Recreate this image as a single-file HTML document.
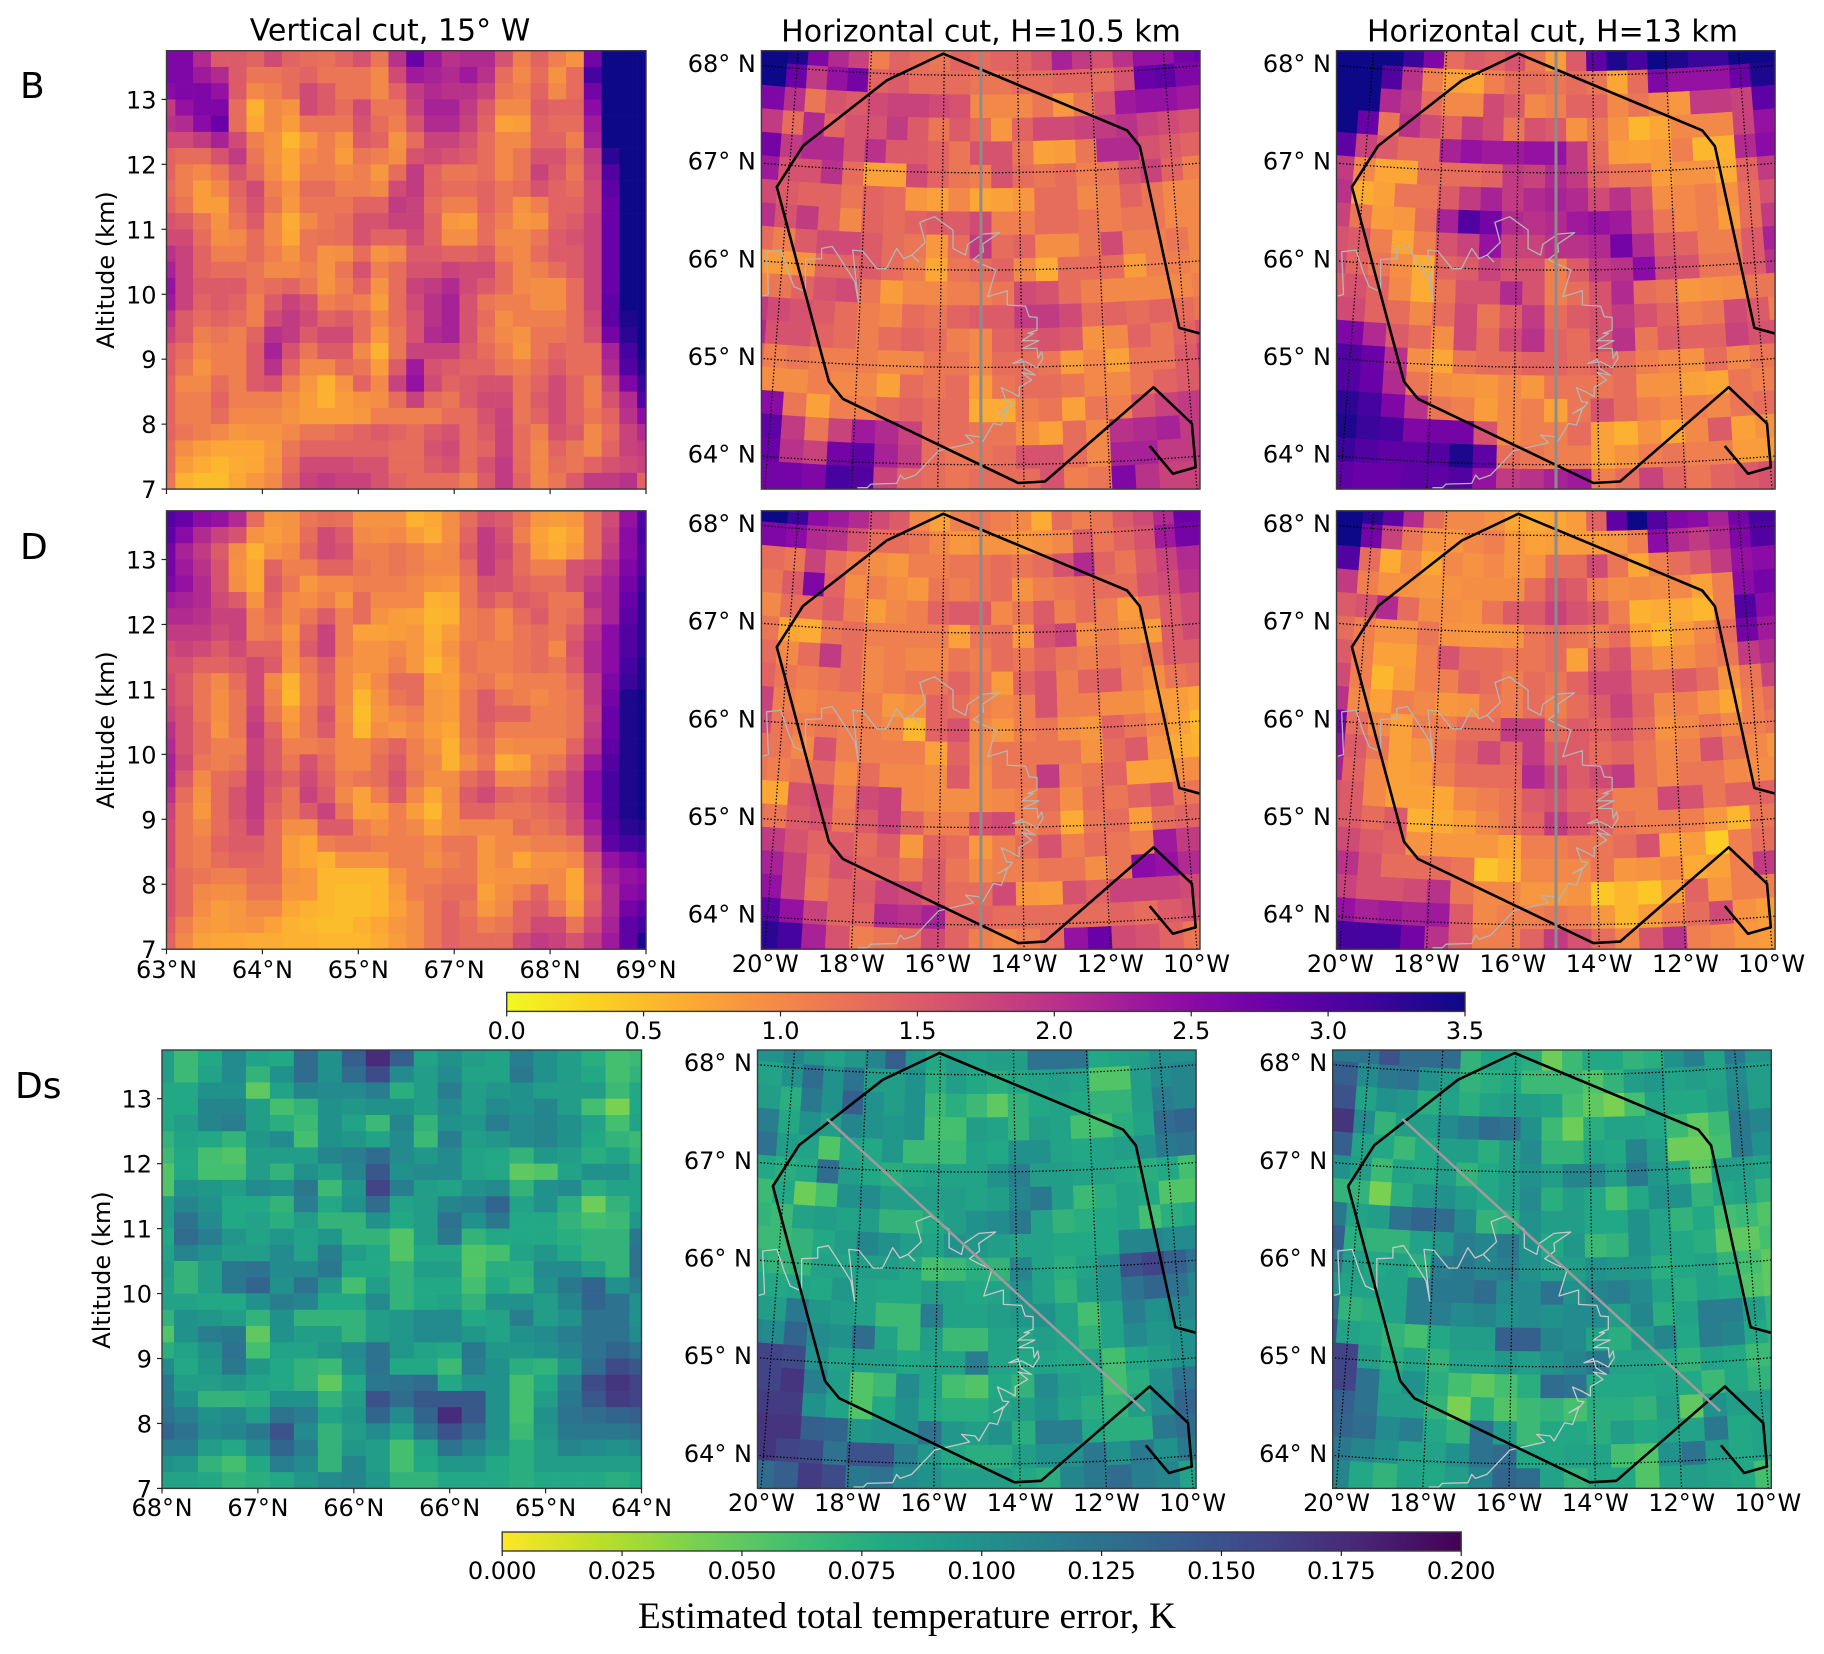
<!DOCTYPE html>
<html lang="en">
<head>
<meta charset="utf-8">
<title>Estimated total temperature error</title>
<style>
html,body{margin:0;padding:0;background:#fff}
svg{display:block}
text{font-family:"DejaVu Sans",sans-serif;fill:#000}
</style>
</head>
<body>
<svg id="chart" xmlns="http://www.w3.org/2000/svg" width="1824" height="1654" viewBox="0 0 1824 1654">
<rect x="0" y="0" width="1824" height="1654" fill="#fff"/>
<text x="390" y="31" font-size="30" text-anchor="middle" dominant-baseline="central">Vertical cut, 15° W</text>
<text x="981" y="32" font-size="30" text-anchor="middle" dominant-baseline="central">Horizontal cut, H=10.5 km</text>
<text x="1552.5" y="32" font-size="30" text-anchor="middle" dominant-baseline="central">Horizontal cut, H=13 km</text>
<text x="20" y="98" font-size="36">B</text>
<text x="20" y="559" font-size="36">D</text>
<text x="15" y="1098" font-size="36">Ds</text>
<text transform="translate(106,270) rotate(-90)" font-size="24" text-anchor="middle" dominant-baseline="central">Altitude (km)</text>
<text transform="translate(106,730) rotate(-90)" font-size="24" text-anchor="middle" dominant-baseline="central">Altitude (km)</text>
<text transform="translate(102,1270) rotate(-90)" font-size="24" text-anchor="middle" dominant-baseline="central">Altitude (km)</text>
<text x="638" y="1628" font-size="37.5" textLength="538" lengthAdjust="spacingAndGlyphs" style="font-family:'Liberation Serif',serif">Estimated total temperature error, K</text>
</svg>
<script>
const altitudeTicks = [7,8,9,10,11,12,13];
const vertTickLabelsD = [63,64,65,67,68,69];
const vertTickLabelsDs = [68,67,66,66,65,64];
const latTicks = [64,65,66,67,68];
const lonTicks = [-20,-18,-16,-14,-12,-10];
const plasmaTicks = [0,0.5,1,1.5,2,2.5,3,3.5];
const viridisTicks = [0,0.025,0.05,0.075,0.1,0.125,0.15,0.175,0.2];

const regionLons = [-11.03,-10.53,-9.99,-10.0,-10.85,-13.51,-14.13,-18.30,-18.66,-20.29,-19.69,-17.55,-16.03,-11.12,-10.81,-10.13,-9.6];
const regionLats = [64.14,63.84,63.89,64.34,64.74,63.82,63.81,64.64,64.81,66.77,67.21,67.93,68.22,67.39,67.22,65.33,65.25];
const sectionMeridianLon = -15;
const sectionObliqueLons = [-19.0,-11.0];
const sectionObliqueLats = [67.5,64.49];

const coastEast = [232,248,243,283,303,320,345,352,352,397,397,427,470,490,500,484,512,552,578,607,627,650,668,650,687,672,713,765,765,800,806,848,895,848,850,822,848,885,862,917,917,968,978,1000,1000,975,990,958,1005,960,1000,1003,1013,1017,1000,968,932,958,965,995,958,985,950,950,925,900,915,932,918,890,918,900,878,848,838,800,822,725,660,628,618,607,535,525,497];
const coastSouth = [888,883,755,750,815,860,872,870,778,776,745,739,810,845,905,750,753,806,806,745,776,765,785,765,727,667,650,690,745,765,733,702,698,732,755,778,793,810,890,872,915,918,950,952,990,1000,1000,1022,1022,1045,1045,1075,1055,1075,1103,1085,1090,1078,1105,1125,1118,1140,1162,1190,1175,1163,1205,1207,1225,1240,1222,1275,1270,1325,1310,1305,1328,1352,1425,1437,1425,1450,1452,1463,1463];

const verticalB = [
[2.6,2.6,2.1,1.5,1.5,1.4,1.7,1.4,1.3,1.25,1.4,1.6,1.2,2.0,2.8,2.3,2.0,2.1,2.1,1.6,1.1,1.4,1.1,.9,2.7,3.5,3.5,3.5],
[2.6,2.6,2.3,2.1,1.5,1.2,1.2,1.3,1.4,1.2,1.2,1.2,1.0,1.7,2.3,2.2,2.1,2.3,2.0,1.3,1.0,1.3,.9,1.3,3.1,3.5,3.5,3.5],
[2.5,2.6,2.6,2.4,1.5,1.0,1.1,1.3,1.7,1.5,1.2,1.2,1.0,1.4,1.9,2.1,2.0,2.0,1.8,1.2,1.1,1.4,1.0,1.3,2.7,3.5,3.5,3.5],
[1.9,2.4,2.6,2.6,1.3,.6,1.0,.9,1.7,1.5,1.3,1.7,1.2,1.2,1.8,2.2,2.2,1.9,1.5,1.0,1.0,1.5,1.4,1.4,2.5,3.5,3.5,3.5],
[2.0,2.1,2.5,2.8,1.3,.7,1.0,.8,1.2,1.2,1.2,1.6,1.3,1.1,1.6,2.1,2.1,1.8,1.4,.75,.8,1.4,1.3,1.3,2.3,3.5,3.5,3.5],
[1.7,1.7,1.9,2.2,1.7,1.1,.9,.55,.85,1.1,.9,1.5,1.4,.9,1.3,1.8,1.8,1.6,1.3,1.0,1.0,1.4,1.4,1.1,2.2,3.5,3.5,3.5],
[1.4,1.3,1.3,1.6,1.9,1.2,.9,.7,1.0,1.1,.8,1.2,1.1,.95,1.6,1.7,1.6,1.5,1.3,1.0,1.2,1.6,1.6,1.3,1.9,3.3,3.5,3.5],
[1.4,1.1,1.0,1.2,1.6,1.3,.95,.7,1.1,1.1,1.0,1.1,.85,1.3,1.9,1.4,1.2,1.2,1.3,1.0,1.2,1.8,1.5,1.2,1.8,3.0,3.5,3.5],
[1.3,1.1,.8,1.0,1.4,1.7,1.1,.9,1.3,1.3,1.1,1.1,1.0,1.7,1.9,1.4,1.3,1.3,1.4,1.2,1.3,1.6,1.4,1.3,1.7,2.9,3.5,3.5],
[1.4,1.2,.8,.8,1.3,1.6,1.2,.85,1.2,1.2,1.2,1.4,1.4,1.9,1.8,1.3,1.1,1.1,1.4,1.2,.9,1.1,1.4,1.4,1.7,2.8,3.5,3.5],
[1.6,1.5,1.2,.9,1.2,1.5,1.0,.65,1.0,1.2,1.3,1.6,1.6,1.8,1.8,1.4,.85,.8,1.3,1.1,.85,.9,1.4,1.5,1.8,2.8,3.5,3.5],
[1.7,1.7,1.3,.95,1.0,1.3,1.0,.7,1.2,1.25,1.3,1.6,1.4,1.4,1.7,1.4,.95,.95,1.3,1.0,1.0,1.2,1.5,1.6,1.8,2.8,3.5,3.5],
[2.0,1.8,1.4,1.1,1.1,1.3,1.1,.9,1.2,.9,.95,1.3,.9,1.0,1.5,1.5,1.4,1.4,1.5,1.1,1.0,1.3,1.5,1.5,1.8,2.8,3.5,3.5],
[2.2,1.8,1.4,1.3,1.3,1.2,1.0,1.0,1.1,.9,1.2,1.6,1.1,1.3,1.6,1.6,1.8,1.7,1.7,1.3,1.0,1.1,1.3,1.5,1.8,2.8,3.5,3.5],
[2.4,1.8,1.5,1.5,1.5,1.2,1.3,1.4,1.2,.9,1.1,1.4,.9,1.3,1.8,1.9,2.1,1.7,1.5,1.3,1.0,.95,.95,1.3,1.8,2.8,3.5,3.5],
[2.3,1.8,1.4,1.5,1.4,1.1,1.5,1.8,1.6,1.1,1.2,1.1,.8,1.3,1.7,2.0,2.2,1.6,1.2,1.1,1.1,.95,.95,1.3,1.8,2.9,3.5,3.5],
[2.0,1.5,1.3,1.4,1.3,1.1,1.7,1.9,1.7,1.4,1.5,1.3,1.0,1.3,1.6,2.0,2.2,1.6,1.3,.95,1.1,1.1,1.1,1.3,1.7,2.9,3.4,3.5],
[1.8,1.5,1.1,1.2,1.1,1.4,2.0,1.9,1.5,1.7,1.7,1.3,.85,1.2,1.6,2.1,2.2,1.6,1.2,1.0,.9,1.2,1.2,1.3,1.6,2.7,3.3,3.5],
[1.5,1.3,1.0,1.1,1.1,1.5,2.2,1.6,1.2,1.5,1.5,1.0,.6,1.2,1.8,1.8,1.8,1.5,1.3,1.1,.85,1.2,1.4,1.3,1.3,2.2,3.1,3.5],
[1.5,1.2,.9,1.1,1.1,1.5,2.0,1.4,1.0,1.0,1.3,1.2,.8,1.5,2.3,1.6,1.5,1.4,1.4,1.2,1.1,1.3,1.5,1.3,1.3,2.1,3.0,3.4],
[1.4,1.0,1.0,1.3,1.1,1.5,1.6,1.1,.85,.6,.9,1.4,1.0,1.8,2.4,1.7,1.4,1.5,1.6,1.6,1.2,1.4,1.7,1.4,1.1,1.8,2.6,3.2],
[1.4,1.1,1.1,1.4,1.1,1.1,1.1,.95,.8,.6,.8,.9,.95,1.3,1.8,1.3,1.2,1.5,1.7,1.7,1.2,1.5,1.7,1.4,1.1,1.6,2.1,3.0],
[1.4,1.1,1.1,1.3,1.0,1.0,1.0,.9,.8,.8,.8,.85,1.1,1.1,1.1,1.1,1.3,1.3,1.6,1.8,1.2,1.4,1.7,1.4,1.2,1.4,2.0,2.5],
[1.4,1.2,1.1,1.0,.85,.9,.9,1.0,1.2,1.2,1.3,1.4,1.5,1.4,1.3,1.5,1.6,1.3,1.5,1.8,1.3,1.1,1.6,1.5,1.0,1.3,1.8,2.1],
[1.3,.95,.8,.7,.7,.7,.85,1.2,1.4,1.4,1.4,1.4,1.4,1.3,1.3,1.6,1.7,1.3,1.4,1.8,1.3,1.0,1.4,1.2,1.0,1.4,1.8,1.9],
[1.3,.8,.65,.55,.65,.7,.9,1.3,1.7,1.7,1.7,1.6,1.6,1.3,1.3,1.5,1.6,1.3,1.6,1.9,1.3,1.0,1.3,1.2,1.4,1.6,1.7,1.8],
[1.2,.6,.5,.5,.7,.85,1.0,1.4,1.8,1.9,1.8,1.8,1.6,1.4,1.3,1.3,1.3,1.1,1.5,1.9,1.4,1.0,1.2,1.5,1.9,1.9,2.0,1.4]
];
const verticalD = [
[3.0,2.8,2.5,2.4,2.1,1.3,.85,.9,1.2,1.3,1.25,.9,.9,.9,.6,.7,.95,1.3,1.6,1.5,1.2,.85,.8,.85,1.3,1.7,2.4,3.0],
[2.9,2.5,2.1,1.8,1.6,.9,.8,.9,1.3,1.7,1.5,1.0,.95,1.0,.8,.65,.95,1.4,1.9,1.6,1.1,.75,.6,.75,1.3,1.8,2.5,3.1],
[2.7,2.2,1.9,1.5,.95,.6,.9,1.0,1.4,1.7,1.6,1.1,1.1,1.2,1.1,.95,1.0,1.5,1.9,1.7,1.3,.8,.65,.85,1.3,1.9,2.5,3.0],
[2.7,2.3,2.0,1.6,.9,.7,1.4,1.1,1.1,1.4,1.4,1.2,1.1,1.2,1.1,1.0,1.0,1.3,1.9,1.6,1.3,1.1,1.1,1.6,1.7,2.1,2.6,3.0],
[2.6,2.4,2.1,1.6,.95,.7,1.5,1.2,.85,1.0,1.0,1.1,1.1,1.1,1.0,.9,.85,1.2,1.6,1.6,1.4,1.3,1.3,1.6,1.9,2.2,2.7,3.2],
[2.3,2.2,2.1,1.7,1.5,.9,1.4,1.0,.95,1.1,.85,1.3,1.0,1.0,1.0,.6,.65,1.2,1.5,1.3,1.5,1.4,1.2,1.2,2.0,2.2,2.8,3.3],
[2.1,2.1,2.0,1.8,1.8,1.1,1.3,1.0,1.2,1.5,1.1,1.3,.9,.8,.75,.55,.6,1.1,1.2,1.0,1.3,1.5,1.2,1.3,1.8,2.2,2.9,3.3],
[1.9,1.9,1.9,1.7,1.8,1.1,1.2,.85,1.4,1.8,1.1,.75,.75,.8,.85,.6,.8,1.1,1.2,1.0,1.2,1.3,1.2,1.5,2.0,2.5,3.0,3.3],
[1.7,1.8,1.7,1.5,1.7,1.4,1.4,.95,1.5,1.8,1.1,.9,.9,1.0,.85,.65,.9,1.2,1.1,1.1,1.2,1.3,1.0,1.6,2.1,2.5,3.0,3.3],
[1.6,1.6,1.4,1.4,1.5,1.7,1.5,.9,1.2,1.5,1.0,.9,.9,1.1,.85,.55,.8,1.2,1.1,1.1,1.2,1.3,1.2,1.5,2.1,2.5,3.1,3.4],
[1.7,1.5,1.2,1.0,1.3,1.7,1.0,.6,1.1,1.4,1.0,.75,1.0,1.3,1.3,.8,.75,1.1,1.2,1.0,1.1,1.1,1.1,1.3,1.9,2.6,3.2,3.4],
[1.7,1.5,1.2,.95,1.2,1.7,1.1,.55,1.1,1.4,1.0,.55,.9,1.2,1.3,.85,.8,1.2,1.5,1.2,1.1,1.0,1.1,1.2,1.9,2.7,3.4,3.5],
[1.8,1.6,1.2,.95,1.2,1.8,1.2,.8,1.2,1.6,.95,.5,.85,1.0,1.1,.85,.8,1.2,1.5,1.4,1.4,1.1,1.1,1.2,1.8,2.8,3.4,3.5],
[2.0,1.6,1.3,.9,1.2,1.9,1.4,.9,1.2,1.5,1.0,.55,.95,.85,1.0,.8,.7,1.2,1.4,1.1,1.1,1.1,1.1,1.2,1.9,2.8,3.4,3.5],
[2.1,1.6,1.3,1.1,1.1,1.8,1.5,1.1,1.1,1.2,1.0,1.0,1.2,1.4,1.1,.9,.6,1.1,1.3,.95,1.0,1.0,1.0,1.4,2.0,2.9,3.4,3.5],
[2.2,1.7,1.2,1.1,1.2,1.8,1.5,1.2,1.6,1.3,1.0,1.0,1.3,1.5,1.1,1.0,.6,.95,1.2,.65,.75,1.1,1.2,1.6,2.3,3.0,3.4,3.5],
[2.2,1.5,1.0,1.3,1.4,1.9,1.6,1.4,1.7,1.4,1.1,1.2,1.3,1.6,1.2,.95,.95,1.3,1.5,1.0,1.0,1.2,1.5,1.8,2.5,3.1,3.4,3.5],
[2.0,1.3,.9,1.3,1.6,1.9,1.5,1.2,1.8,1.5,1.0,.75,1.1,1.5,1.0,.7,1.0,1.5,1.7,1.4,1.3,1.4,1.6,1.8,2.5,3.1,3.4,3.5],
[1.8,1.2,.85,1.3,1.6,1.9,1.4,1.2,1.5,1.8,1.2,.75,.8,1.1,.8,.55,.95,1.4,1.4,1.2,1.2,1.3,1.4,1.7,2.4,3.1,3.4,3.5],
[1.7,1.2,1.0,1.3,1.5,1.8,1.3,.95,.95,1.5,1.5,1.1,.95,1.1,1.0,.75,.95,1.0,1.0,1.0,1.3,1.2,1.3,1.6,2.2,3.0,3.3,3.4],
[1.7,1.2,1.1,1.4,1.5,1.5,1.3,.8,.7,1.1,1.2,1.2,1.1,1.1,1.1,1.0,1.2,1.2,.85,1.0,1.0,1.1,1.1,1.2,2.0,2.9,3.1,3.2],
[1.7,1.2,1.1,1.3,1.4,1.4,1.3,.8,.7,.6,.9,.9,.9,1.1,1.1,.95,1.1,1.2,.85,1.0,.7,.9,.9,1.0,1.6,2.4,2.6,2.8],
[1.6,1.3,1.2,1.1,1.1,1.3,1.3,.9,.85,.55,.55,.55,.55,.9,1.1,1.1,1.2,1.2,.85,.9,.9,.95,1.0,.7,1.5,2.2,2.4,2.5],
[1.6,1.3,1.0,.95,.95,1.2,1.2,.85,.85,.55,.5,.5,.55,.8,1.1,1.2,1.3,1.3,.75,.95,1.1,1.4,1.0,.7,1.4,2.1,2.5,2.6],
[1.6,1.3,.95,.8,.85,1.0,1.0,.7,.6,.55,.5,.5,.55,.75,.95,1.2,1.4,1.2,.85,1.0,1.4,1.5,1.2,.8,1.5,2.1,2.7,2.9],
[1.5,1.1,.85,.8,.85,.9,.75,.6,.55,.5,.5,.6,.7,.85,.95,1.2,1.4,1.3,1.1,1.2,1.4,1.7,1.7,1.2,1.7,2.2,2.9,3.1],
[1.4,1.0,.75,.7,.7,.65,.65,.6,.6,.55,.55,.55,.65,.8,.95,1.2,1.4,1.3,1.3,1.3,1.7,1.9,1.8,1.6,1.9,2.3,2.9,3.4]
];
const verticalDs = [
[.09,.065,.08,.105,.085,.08,.13,.1,.14,.175,.14,.085,.1,.09,.085,.115,.1,.09,.075,.06,.065],
[.09,.065,.085,.105,.07,.1,.13,.1,.13,.155,.105,.09,.105,.085,.085,.12,.1,.09,.08,.06,.07],
[.08,.08,.1,.1,.05,.085,.11,.105,.105,.115,.075,.09,.115,.09,.095,.1,.09,.09,.09,.065,.08],
[.08,.08,.11,.11,.09,.06,.07,.1,.095,.1,.1,.09,.105,.09,.105,.1,.11,.09,.06,.04,.08],
[.08,.09,.11,.115,.09,.075,.065,.1,.085,.065,.11,.07,.1,.095,.115,.105,.11,.1,.085,.06,.085],
[.07,.085,.08,.07,.095,.105,.06,.1,.095,.085,.105,.065,.115,.09,.095,.105,.11,.1,.08,.07,.065],
[.065,.08,.06,.055,.09,.09,.09,.11,.115,.13,.105,.095,.105,.085,.08,.07,.095,.09,.075,.085,.07],
[.055,.08,.06,.06,.09,.07,.1,.09,.11,.145,.1,.105,.105,.085,.08,.05,.055,.085,.1,.1,.085],
[.055,.1,.095,.09,.105,.1,.12,.065,.095,.16,.115,.09,.085,.1,.105,.07,.1,.105,.075,.085,.085],
[.09,.11,.1,.08,.08,.07,.115,.08,.1,.13,.085,.09,.11,.115,.135,.085,.1,.075,.045,.07,.085],
[.09,.125,.105,.08,.085,.075,.09,.07,.07,.1,.08,.09,.125,.1,.12,.08,.08,.07,.06,.065,.095],
[.08,.13,.115,.095,.085,.095,.085,.095,.07,.07,.055,.09,.12,.07,.08,.08,.08,.075,.07,.07,.12],
[.085,.11,.1,.09,.09,.105,.085,.115,.09,.08,.055,.08,.08,.055,.06,.085,.095,.08,.07,.07,.125],
[.09,.07,.09,.12,.125,.105,.105,.12,.08,.08,.07,.09,.09,.055,.075,.075,.105,.105,.09,.07,.125],
[.085,.07,.09,.12,.135,.1,.125,.095,.06,.09,.07,.08,.08,.06,.08,.07,.1,.12,.135,.1,.115],
[.085,.085,.08,.08,.1,.115,.11,.08,.08,.105,.07,.08,.085,.07,.1,.1,.09,.11,.135,.125,.1],
[.07,.1,.095,.09,.07,.1,.07,.07,.07,.09,.095,.105,.105,.08,.085,.115,.09,.1,.125,.125,.1],
[.055,.1,.115,.12,.05,.1,.09,.09,.07,.09,.095,.105,.105,.095,.085,.1,.105,.115,.125,.125,.105],
[.075,.085,.1,.125,.06,.085,.085,.095,.105,.125,.095,.085,.08,.12,.095,.095,.1,.11,.125,.135,.125],
[.105,.08,.095,.12,.095,.08,.07,.065,.1,.125,.08,.08,.065,.115,.1,.075,.07,.095,.13,.155,.145],
[.12,.09,.09,.095,.085,.08,.07,.05,.08,.12,.125,.13,.08,.1,.1,.06,.08,.115,.155,.17,.16],
[.12,.1,.07,.07,.075,.1,.1,.07,.09,.15,.13,.145,.145,.145,.1,.06,.09,.12,.145,.165,.16],
[.125,.115,.1,.105,.09,.125,.115,.085,.095,.135,.105,.135,.175,.145,.1,.06,.1,.125,.13,.135,.14],
[.135,.125,.105,.11,.12,.15,.105,.07,.09,.105,.085,.12,.15,.13,.1,.065,.095,.12,.12,.12,.125],
[.115,.115,.09,.08,.105,.135,.115,.07,.095,.09,.06,.085,.125,.11,.095,.075,.09,.11,.105,.1,.105],
[.1,.095,.07,.06,.08,.115,.105,.07,.11,.09,.06,.08,.095,.095,.08,.075,.09,.09,.09,.09,.09],
[.085,.085,.08,.07,.075,.08,.095,.105,.11,.095,.07,.07,.08,.08,.08,.075,.08,.08,.08,.075,.08]
];
const mapB105 = [
[3.5,3.5,3.4,2.6,2.1,1.8,1.1,1.4,1.3,1.2,1.4,1.3,1.4,1.4,1.6,2.2,1.9,1.6,2.0,2.4,2.4,2.7,2.8],
[3.5,3.5,2.8,1.9,2.4,2.7,1.4,1.5,1.3,1.3,1.3,1.2,1.2,1.3,1.3,1.4,1.4,1.3,1.6,2.8,2.9,2.6,2.6],
[2.6,2.6,2.0,1.2,1.6,1.5,1.7,1.8,1.8,1.7,1.6,1.0,1.0,1.0,1.2,.85,1.2,1.6,2.3,2.4,2.4,2.3,2.3],
[2.0,1.9,1.3,2.1,1.4,1.6,1.6,1.9,1.5,1.2,1.5,1.3,.85,1.4,1.7,1.7,1.8,1.9,2.0,1.8,1.7,1.6,1.5],
[2.8,2.7,1.9,2.1,2.1,1.6,2.0,1.5,1.5,1.4,1.2,1.6,1.6,1.2,.75,.8,1.2,2.1,2.1,1.6,1.5,1.4,1.4],
[2.6,2.3,1.6,1.6,2.0,1.3,.75,.75,1.7,1.4,1.2,1.1,1.6,1.3,1.2,1.3,1.1,1.2,1.6,1.8,1.4,1.1,1.1],
[1.8,1.7,1.5,1.4,1.4,1.2,1.4,1.3,.85,.75,1.0,.7,.75,.85,1.3,1.3,1.0,1.1,1.4,1.2,1.0,1.0,1.1],
[1.9,2.0,1.6,1.9,1.4,1.0,1.4,1.3,1.4,1.5,1.5,1.7,1.1,1.1,1.3,1.3,1.2,1.1,1.2,1.2,1.0,1.0,1.0],
[1.3,1.3,1.1,1.5,1.7,1.7,1.5,1.3,1.2,.85,1.3,1.9,1.3,1.4,.95,.95,1.2,1.7,1.1,1.1,1.2,1.0,.95],
[.8,.8,.8,.9,1.4,1.4,1.5,1.3,1.1,.7,1.2,1.3,1.4,1.0,.65,1.3,1.3,1.3,.8,1.1,1.1,1.0,1.0],
[.9,1.0,1.2,1.4,1.6,1.7,1.2,.8,1.0,1.0,1.1,1.1,1.2,1.7,1.6,1.3,1.1,1.0,1.0,1.0,1.0,1.1,1.0],
[1.9,1.9,1.7,1.6,1.5,1.3,1.1,1.0,1.3,1.2,1.4,1.5,1.5,1.9,1.9,1.7,1.3,1.4,1.3,1.4,1.3,1.2,1.2],
[2.1,2.1,1.6,1.6,1.4,1.3,1.1,1.3,1.4,1.3,1.1,1.0,1.4,1.5,1.6,1.5,.9,1.0,1.4,1.2,1.4,1.6,1.6],
[1.5,1.4,1.1,1.2,1.1,1.1,1.1,1.0,1.0,1.2,1.2,1.0,1.3,1.3,1.2,.8,1.0,.75,1.2,1.2,1.5,1.9,2.0],
[1.3,1.2,.95,.95,1.1,1.0,1.0,.75,1.3,1.2,1.3,.8,1.2,1.3,1.3,1.2,1.0,1.0,1.2,1.4,1.5,1.6,1.6],
[2.6,2.6,2.5,1.2,.75,1.1,1.1,1.3,1.4,1.3,1.3,.65,.65,1.1,1.2,.75,1.2,1.1,1.6,1.8,1.9,1.9,1.9],
[3.0,3.0,2.9,1.9,1.2,1.8,2.3,2.1,1.8,1.3,1.3,1.2,1.2,.95,.75,1.3,1.0,2.0,2.1,2.2,1.9,1.9,1.9],
[2.9,2.9,2.8,2.0,1.8,2.7,2.9,2.2,1.9,1.3,1.2,1.2,1.3,1.6,1.6,1.3,1.0,2.2,2.2,1.9,1.9,1.9,1.9],
[2.7,2.7,2.7,2.7,2.6,3.1,3.0,1.8,1.4,1.3,1.2,1.3,1.3,1.3,1.6,1.1,1.2,2.6,2.0,1.8,1.8,1.8,1.8],
[2.7,2.7,2.7,2.7,2.6,3.1,3.0,1.8,1.4,1.3,1.2,1.3,1.3,1.3,1.5,1.2,1.3,2.6,2.0,1.8,1.8,1.8,1.8]
];
const mapB13 = [
[3.5,3.5,3.5,3.5,3.2,2.6,1.3,1.5,1.4,1.6,1.2,.8,1.5,2.9,3.4,3.1,3.5,3.4,3.2,3.2,3.5,3.5,3.5],
[3.5,3.5,3.5,3.0,2.0,1.1,.75,.7,1.1,1.3,1.3,1.2,1.3,1.2,.7,1.3,2.6,2.4,2.4,2.4,2.8,3.4,3.4],
[3.5,3.5,3.5,2.1,1.9,1.3,1.0,1.0,1.7,1.5,1.0,1.1,1.4,1.4,1.0,1.2,1.0,.85,1.9,1.9,1.8,2.9,2.9],
[3.5,3.5,2.8,1.2,2.0,1.7,1.4,1.9,1.7,1.2,1.6,1.5,.9,1.2,.9,.55,.7,1.0,1.0,1.0,1.8,2.4,2.4],
[2.9,2.9,1.8,1.5,1.3,1.3,2.2,2.4,2.3,2.3,2.4,2.4,1.9,1.3,.8,.75,.8,1.1,.55,.6,2.1,2.5,2.5],
[1.9,1.9,1.0,.7,.7,1.3,1.3,1.3,1.4,1.9,1.8,2.1,1.9,1.4,1.2,1.2,.8,.9,.9,.65,1.4,1.9,1.9],
[2,2,.65,.75,1.2,1.2,1.5,1.9,2.2,1.9,2.1,2.2,2.1,1.7,2.0,1.6,.95,1.0,1.1,.9,1.3,1.6,1.6],
[1.8,1.8,1.2,.8,.85,1.3,2.2,3.0,2.7,2.1,2.0,2.1,2.3,2.4,2.3,1.7,1.2,1.0,1.1,.8,1.3,1.9,1.9],
[1.6,1.6,1.5,1.1,.7,1.1,1.6,1.8,2.4,1.8,1.8,2.0,2.0,2.1,2.7,2.1,1.5,1.4,1.1,1.1,1.5,2.2,2.2],
[1.7,1.7,1.4,1.2,.95,.65,1.4,1.5,1.8,1.6,1.6,1.1,1.5,1.9,2.0,2.5,1.7,1.6,1.2,1.2,1.5,2.0,2.0],
[1.5,1.5,1.6,1.4,1.0,.65,1.2,1.6,1.6,2.1,1.6,1.1,1.3,1.6,2.1,1.3,1.2,.85,.9,.95,1.2,1.2,.9],
[1.7,1.7,1.7,1.4,1.3,1.0,1.3,1.7,1.2,1.5,1.9,1.3,1.5,1.6,1.9,1.6,1.4,1.1,1.2,1.7,1.5,1.1,1.1],
[2.6,2.6,2.6,2.1,1.5,1.3,.95,1.7,1.3,1.7,2.0,1.4,1.3,1.6,2.0,1.2,1.5,1.4,1.4,1.8,1.6,1.6,1.6],
[3,3,3.0,2.8,2.0,.95,.7,1.2,1.3,1.3,1.4,1.4,1.3,1.4,1.3,1.1,1.0,.9,1.3,1.0,1.2,1.2,1.2],
[3,3,3,2.8,2.1,1.2,.95,.9,.85,1.0,.85,1.2,1.2,1.2,1.3,.9,.9,.75,.7,1.2,1.1,1.1,1.1],
[3.4,3.3,3.3,3.1,2.6,2.0,1.2,1.1,.8,1.0,1.1,.75,1.2,1.6,1.3,1.1,1.0,1.1,1.0,1.2,1.3,1.3,1.3],
[3.4,3.4,3.4,3.2,3.1,2.6,2.7,2.7,1.6,1.0,1.1,1.1,1.3,.75,.6,.9,.7,1.0,1.5,.75,.9,.9,.9],
[3.2,3.2,3.2,3.0,2.9,2.9,3.0,3.4,2.9,1.3,1.2,1.1,1.1,.75,.9,1.1,1.2,1.1,1.1,.8,.8,.8,.8],
[2.9,2.9,2.9,2.8,2.8,2.9,2.9,3.0,2.4,1.9,2.0,2.2,2.3,1.1,1.3,1.8,1.4,1.2,1.4,1.5,1.6,1.6,1.6],
[3.0,3.0,2.9,2.8,2.8,2.9,2.9,3.0,2.4,2.0,2.0,2.2,2.2,1.2,1.3,1.8,1.4,1.2,1.4,1.5,1.6,1.6,1.6]
];
const mapD105 = [
[3.5,3.5,3.2,2.5,2.3,2.1,1.7,1.5,1.0,.75,1.1,1.2,1.1,1.0,.65,1.3,1.1,1.2,1.5,1.7,2.1,2.8,2.8],
[2.6,2.6,2.5,2.1,2.0,1.6,1.3,1.3,1.2,1.0,.85,.9,.9,.85,.9,1.0,1.5,1.2,1.4,1.6,2.3,2.7,2.7],
[1.3,1.3,1.2,1.8,1.3,1.1,.95,.85,1.1,1.1,1.2,1.2,1.3,1.2,1.3,1.6,2.1,1.4,1.2,1.5,1.8,2.1,2.1],
[1.2,1.2,1.5,2.6,1.4,.95,1.1,.95,.85,1.2,1.1,1.2,1.3,.9,1.1,1.2,1.3,1.3,1.3,1.6,1.7,2.0,2.0],
[1.0,1.0,1.3,1.3,1.5,1.1,.8,1.0,1.1,1.4,1.5,1.5,1.0,1.2,1.5,1.1,1.3,1.1,.8,1.2,1.5,1.7,1.7],
[1.2,1.2,.7,.65,1.2,1.3,1.1,1.1,1.1,1.1,.75,1.2,1.3,.85,1.6,1.8,.95,1.1,.9,.8,1.5,1.7,1.7],
[1.3,1.3,1.0,1.3,1.9,1.3,1.0,1.1,1.0,1.0,1.2,1.1,1.3,1.2,1.4,1.2,1.1,1.2,1.1,1.2,1.5,1.5,1.5],
[1.4,1.4,1.2,1.1,1.2,1.3,1.0,1.1,1.2,1.2,1.4,1.2,.8,1.4,1.6,1.1,1.4,1.5,1.1,.95,1.2,1.3,1.3],
[1.8,1.8,1.1,1.0,1.1,1.1,1.1,.85,.95,1.4,1.3,1.1,1.0,1.1,1.6,1.1,1.1,.95,.95,.8,.8,.7,.7],
[1.7,1.7,1.2,1.1,1.2,1.1,1.1,1.0,.55,1.4,1.6,1.0,.85,1.1,1.2,.95,.85,1.4,1.2,1.0,.75,.55,.55],
[1.3,1.3,1.2,1.0,1.6,1.1,1.1,1.1,1.1,.75,1.4,1.0,1.2,1.2,1.2,1.2,.9,1.3,1.5,.9,.65,.6,.6],
[1.2,1.2,1.1,1.2,1.3,.95,1.3,1.0,1.0,.95,1.5,.95,1.2,1.2,1.9,1.1,1.2,1.4,.75,.75,.95,.95,.95],
[.7,.7,.7,1.6,1.7,1.1,1.7,1.8,1.0,.95,.95,.95,1.0,1.1,1.3,.95,1.3,1.2,1.4,1.6,1.2,1.2,1.2],
[1.3,1.3,1.2,1.5,1.6,1.2,1.5,1.8,1.4,1.1,1.1,1.6,1.7,1.1,1.2,.65,1.2,1.3,.8,1.3,1.4,1.4,1.4],
[1.9,1.9,1.9,1.6,1.4,1.5,1.3,1.5,.85,1.4,1.3,.85,1.1,1.3,1.6,1.1,1.3,1.2,1.1,2.3,1.9,1.9,1.9],
[2.3,2.3,2.2,1.8,1.3,1.6,1.4,1.4,1.2,1.5,1.2,1.0,1.1,1.1,1.2,1.2,.95,1.2,2.5,2.4,2.1,2.1,2.1],
[2.5,2.5,2.4,1.8,1.2,1.4,1.5,1.8,1.7,1.5,1.3,1.3,1.7,.85,.8,1.6,1.4,1.8,1.8,1.8,1.7,1.7,1.7],
[3,3,2.9,2.4,1.8,1.4,1.4,2.1,2.0,2.2,1.4,1.4,1.3,1.3,1.3,1.3,1.3,1.4,1.3,1.5,1.6,1.6,1.6],
[3.3,3.3,3.3,3.1,2.2,1.6,1.1,1.2,1.3,1.7,1.4,1.1,1.0,1.1,1.3,2.4,2.8,1.7,1.6,1.4,1.2,1.2,1.2],
[3.3,3.3,3.3,3.1,2.3,1.7,1.2,1.3,1.3,1.7,1.4,1.1,1.0,1.1,1.3,2.4,2.8,1.7,1.6,1.4,1.2,1.2,1.2]
];
const mapD13 = [
[3.5,3.5,3.3,2.9,2.1,1.3,1.0,1.0,.9,.7,.65,.7,.8,1.4,2.9,3.5,3.0,2.6,2.5,2.2,2.7,3.1,3.1],
[3.5,3.5,2.7,1.8,1.2,.9,.85,1.0,1.1,.85,.75,.8,.8,.8,.85,1.1,2.5,2.1,1.9,2.1,2.6,3.0,3.0],
[3,3,1.3,.65,1.0,.7,1.0,.9,1.0,.85,.9,1.3,1.3,1.7,1.2,.7,1.1,1.3,1.5,1.9,2.4,2.5,2.5],
[1.9,1.9,1.1,.9,.9,.85,.9,.95,.95,.95,1.3,1.6,1.5,1.1,.95,1.0,.95,1.0,.75,1.1,2.5,2.7,2.7],
[1.5,1.5,1.6,2.1,1.3,.95,.95,.9,1.2,1.5,1.5,1.8,1.6,1.5,1.1,.6,.65,.65,.55,1.1,3.0,2.5,2.5],
[1.3,1.3,1.1,.9,.9,1.2,.9,.85,.85,.9,1.2,1.3,1.2,1.1,1.3,.8,.55,.8,1.0,1.3,2.7,2.3,2.3],
[1.5,1.5,1.1,.75,.75,1.1,1.6,1.3,1.3,1.2,1.2,1.3,.75,1.4,1.6,1.1,.9,.95,1.1,1.2,1.9,2.1,2.1],
[1.7,1.7,1.1,.55,.8,1.1,1.1,1.4,1.3,1.1,1.3,1.2,1.4,1.7,1.7,1.3,1.3,1.5,1.3,.9,1.2,1.8,1.8],
[2,2,1.0,.75,1.1,1.0,.85,.9,1.2,1.1,1.3,1.1,1.3,1.5,1.8,1.4,1.0,1.1,.9,.7,1.1,1.3,1.3],
[2.7,2.7,1.3,1.0,.75,1.1,1.1,1.3,1.3,1.9,1.9,1.3,1.5,1.4,1.6,1.3,.9,1.0,1.2,1.0,1.1,1.2,1.2],
[2.4,2.4,1.5,1.2,.75,.9,1.2,1.4,1.7,1.4,1.9,1.5,1.5,1.3,1.4,1.2,1.0,1.1,1.6,1.2,1.0,.85,.85],
[2.2,2.2,1.4,1.0,.75,.8,1.1,1.3,1.3,1.3,2.1,1.8,1.5,1.7,1.9,1.2,1.0,1.2,1.2,1.0,.95,.95,.95],
[1.6,1.6,1.5,1.0,.75,.75,.7,1.0,1.1,1.2,1.5,1.6,1.4,1.4,1.1,1.1,1.7,1.6,1.2,1.4,1.4,1.4,1.4],
[1.6,1.6,1.5,1.3,1.5,.6,.65,.8,1.0,1.2,1.4,1.9,1.6,1.4,1.2,1.1,1.1,1.1,.85,.55,1.2,1.2,1.2],
[1.7,1.7,1.7,1.5,1.4,.9,.85,.85,.85,.7,1.1,1.1,1.2,1.2,1.3,1.6,.7,.8,.35,1.1,1.3,1.3,1.3],
[2.0,2.0,2.0,1.6,1.3,1.3,1.3,1.2,.45,.6,1.0,1.0,1.0,1.2,.85,.9,1.0,.65,.75,1.1,1.9,1.9,1.9],
[1.8,1.8,1.8,1.6,1.6,1.7,2.0,1.2,1.0,1.0,.85,.85,.9,.4,.55,.4,.75,1.4,.85,1.1,1.1,1.1,1.1],
[2.4,2.4,2.4,2.2,2.3,2.2,2.3,1.5,1.0,1.1,1.1,1.2,1.1,.85,.55,.8,1.1,1.3,1.7,.9,.8,.8,.8],
[3.2,3.2,3.1,3.1,3.1,2.7,2.0,1.5,1.1,1.1,1.4,1.9,1.6,1.3,1.0,1.6,2.0,1.1,1.0,.85,.8,.8,.8],
[3.2,3.2,3.1,3.1,3.1,2.7,2.1,1.5,1.1,1.1,1.4,1.9,1.6,1.3,1.0,1.6,2.0,1.1,1.0,.85,.8,.8,.8]
];
const mapDs105 = [
[.1,.1,.11,.095,.085,.095,.11,.14,.095,.08,.09,.085,.09,.09,.125,.125,.125,.08,.085,.09,.1,.1,.1],
[.085,.085,.1,.13,.1,.125,.09,.09,.1,.075,.09,.08,.075,.08,.085,.09,.085,.055,.055,.09,.105,.11,.11],
[.09,.09,.075,.12,.1,.14,.1,.09,.1,.065,.075,.065,.05,.07,.08,.085,.08,.07,.07,.09,.115,.11,.11],
[.115,.115,.08,.1,.09,.11,.1,.095,.1,.06,.06,.09,.085,.07,.09,.085,.06,.06,.075,.085,.13,.135,.135],
[.125,.125,.09,.085,.055,.085,.08,.095,.065,.065,.065,.085,.08,.1,.1,.085,.08,.085,.09,.1,.12,.125,.125],
[.08,.08,.075,.08,.13,.09,.08,.075,.08,.085,.085,.085,.1,.115,.09,.09,.085,.085,.08,.075,.08,.06,.06],
[.065,.065,.08,.045,.06,.1,.105,.09,.09,.09,.09,.085,.09,.11,.12,.09,.065,.075,.085,.08,.055,.055,.055],
[.07,.07,.065,.085,.09,.085,.09,.07,.07,.08,.09,.1,.105,.12,.085,.07,.075,.08,.085,.06,.075,.08,.08],
[.065,.065,.065,.07,.08,.09,.11,.1,.09,.085,.1,.095,.09,.085,.085,.08,.08,.08,.11,.11,.105,.105,.105],
[.075,.075,.07,.07,.085,.085,.09,.09,.08,.06,.065,.075,.07,.11,.085,.075,.085,.1,.15,.16,.14,.125,.125],
[.08,.08,.08,.085,.08,.095,.085,.08,.08,.09,.085,.08,.085,.1,.085,.07,.09,.1,.125,.135,.125,.11,.11],
[.09,.09,.09,.12,.095,.09,.085,.065,.065,.115,.085,.085,.09,.095,.1,.085,.06,.085,.115,.1,.11,.11,.11],
[.11,.11,.105,.135,.105,.1,.13,.085,.065,.09,.065,.065,.085,.085,.09,.085,.07,.085,.105,.095,.1,.1,.1],
[.16,.16,.16,.155,.1,.085,.09,.09,.08,.085,.085,.115,.085,.08,.085,.08,.085,.06,.08,.09,.1,.1,.1],
[.16,.16,.16,.17,.115,.09,.055,.065,.105,.085,.06,.055,.08,.07,.105,.09,.085,.06,.075,.1,.125,.125,.125],
[.165,.165,.165,.165,.1,.085,.055,.08,.1,.08,.075,.075,.085,.09,.1,.085,.075,.07,.09,.105,.135,.135,.135],
[.17,.17,.17,.17,.14,.135,.095,.1,.1,.125,.095,.09,.1,.075,.115,.115,.08,.075,.075,.12,.13,.13,.13],
[.17,.17,.17,.16,.155,.125,.15,.15,.115,.095,.08,.075,.075,.09,.1,.1,.12,.1,.12,.1,.12,.12,.12],
[.13,.13,.13,.14,.165,.155,.12,.125,.105,.1,.09,.09,.09,.08,.075,.11,.12,.13,.115,.11,.085,.085,.085],
[.13,.13,.13,.14,.165,.155,.12,.125,.105,.1,.09,.09,.09,.08,.075,.11,.12,.13,.115,.11,.085,.085,.085]
];
const mapDs13 = [
[.12,.12,.125,.15,.13,.13,.13,.07,.085,.08,.075,.045,.065,.08,.08,.07,.075,.1,.115,.085,.12,.095,.095],
[.14,.14,.105,.12,.125,.1,.09,.07,.075,.08,.065,.065,.065,.055,.07,.09,.095,.085,.09,.085,.105,.09,.09],
[.15,.15,.085,.1,.095,.075,.085,.075,.085,.09,.09,.085,.06,.05,.04,.06,.085,.08,.08,.09,.11,.09,.09],
[.17,.17,.105,.07,.09,.09,.105,.115,.13,.125,.1,.065,.045,.075,.085,.085,.08,.065,.05,.065,.12,.11,.11],
[.14,.14,.085,.08,.065,.08,.09,.09,.075,.09,.105,.07,.07,.085,.08,.11,.09,.045,.045,.06,.12,.1,.1],
[.1,.1,.09,.065,.085,.08,.09,.07,.08,.09,.1,.09,.11,.11,.09,.12,.095,.08,.05,.09,.09,.085,.085],
[.07,.07,.07,.04,.075,.095,.1,.09,.08,.09,.105,.075,.09,.08,.06,.08,.1,.1,.07,.08,.085,.07,.07],
[.12,.12,.085,.09,.125,.135,.13,.105,.07,.075,.1,.09,.09,.08,.08,.1,.085,.07,.08,.06,.065,.055,.055],
[.14,.14,.075,.07,.07,.085,.095,.115,.11,.12,.1,.08,.095,.065,.07,.1,.085,.08,.075,.05,.05,.06,.06],
[.12,.12,.09,.08,.085,.075,.115,.12,.11,.115,.1,.09,.09,.1,.095,.095,.075,.08,.085,.07,.06,.05,.05],
[.1,.1,.085,.085,.085,.115,.12,.12,.13,.105,.105,.125,.1,.11,.115,.105,.085,.075,.085,.08,.055,.05,.05],
[.13,.13,.07,.075,.085,.115,.115,.105,.11,.1,.105,.1,.105,.105,.09,.11,.075,.085,.115,.115,.09,.07,.07],
[.15,.15,.085,.08,.07,.06,.08,.09,.09,.14,.14,.11,.105,.085,.075,.095,.11,.08,.115,.11,.08,.07,.07],
[.16,.16,.16,.09,.075,.085,.07,.085,.085,.095,.09,.1,.11,.12,.085,.085,.08,.07,.085,.08,.065,.065,.065],
[.16,.16,.16,.125,.085,.1,.075,.06,.05,.06,.075,.13,.125,.08,.08,.08,.085,.08,.065,.08,.07,.07,.07],
[.14,.14,.14,.125,.09,.09,.07,.04,.075,.055,.065,.07,.06,.075,.075,.07,.09,.05,.1,.09,.09,.09,.09],
[.135,.135,.135,.13,.105,.115,.08,.07,.125,.09,.065,.08,.08,.075,.09,.08,.085,.085,.12,.08,.085,.085,.085],
[.12,.12,.12,.11,.1,.085,.085,.1,.125,.13,.08,.08,.085,.085,.06,.055,.1,.125,.09,.08,.085,.085,.085],
[.11,.11,.11,.08,.07,.085,.08,.09,.11,.135,.13,.085,.07,.08,.08,.055,.085,.09,.085,.08,.06,.06,.06],
[.11,.11,.11,.08,.07,.085,.08,.09,.11,.135,.13,.085,.07,.08,.08,.055,.085,.09,.085,.08,.06,.06,.06]
];

const plasmaStops = ['#0d0887','#41049d','#6a00a8','#8f0da4','#b12a90','#cc4778','#e16462','#f1844b','#fca636','#fcce25','#f0f921'];
const viridisStops = ['#440154','#482475','#414487','#355f8d','#2a788e','#21918c','#22a884','#44bf70','#7ad151','#bddf26','#fde725'];

const NS = 'http://www.w3.org/2000/svg';
const root = document.getElementById('chart');
function add(tag, attrs, parent) {
  const el = document.createElementNS(NS, tag);
  for (const k in attrs) el.setAttribute(k, attrs[k]);
  (parent || root).appendChild(el);
  return el;
}
function hexRgb(h) { return [parseInt(h.slice(1,3),16),parseInt(h.slice(3,5),16),parseInt(h.slice(5,7),16)]; }
function ramp(stops, t) {
  t = Math.max(0, Math.min(1, t)) * (stops.length - 1);
  const i = Math.min(stops.length - 2, Math.floor(t)), f = t - i;
  const a = hexRgb(stops[i]), b = hexRgb(stops[i+1]);
  return 'rgb(' + a.map((c, j) => Math.round(c + (b[j] - c) * f)).join(',') + ')';
}
function plasmaR(v) { return ramp(plasmaStops, 1 - v / 3.5); }
function viridisR(v) { return ramp(viridisStops, 1 - v / 0.2); }

/* map projection: conic about 15 W, local pixels inside a 438.6 px panel */
const panelW = 438.6, panelH = 438.4;
const cx = 219.5, y68 = 24.7, rho68 = 2405, pxPerLat = 97.33, thetaPerLon = 0.0765 / 5;
function rho(lat) { return rho68 + (68 - lat) * pxPerLat; }
function projX(lon, lat) { return cx + rho(lat) * Math.sin((lon + 15) * thetaPerLon); }
function projY(lon, lat) { return y68 - rho68 + rho(lat) * Math.cos((lon + 15) * thetaPerLon); }
function coastX(e) { return cx + (e - 843) / 2.8; }
function coastY(s) { return y68 + (s - 226) / 3; }
const mapLatTop = 68.28, mapLatStep = 0.2404, mapLonStep = 0.555, mapCenterCol = 11;
let clipCount = 0;

function makeClip(x, y, w, h) {
  const id = 'clip' + (clipCount++);
  const cp = add('clipPath', {id: id});
  
  
  add('rect', {x: x, y: y, width: w, height: h}, cp);
  return id;
}
function frame(x, y, w, h) {
  const r = add('rect', {x: x, y: y, width: w, height: h, fill: 'none', stroke: '#3a3a3a', 'stroke-width': 1.4});
  
  
}
function label(str, x, y, anchor, size, group, extra) {
  const t = add('text', Object.assign({x: x, y: y, 'text-anchor': anchor, 'font-size': size, 'dominant-baseline': 'central'}, extra || {}), group);
  t.textContent = str;
  return t;
}

function drawVertical(values, left, top, colorFn, name, xLabels, labelY) {
  const w = 479.5, h = 438.4;
  const g = add('g', {'clip-path': 'url(#' + makeClip(left, top, w, h) + ')'});
  
  
  const nRows = values.length, nCols = values[0].length;
  const xScale = c => left + (c / (nCols - 1)) * w;
  const altTop = 13.75, altBottom = 7;
  const yScale = a => top + h - (a - altBottom) / (altTop - altBottom) * h;
  values.forEach((row, r) => row.forEach((v, c) => {
    const x0 = xScale(c - 0.5), x1 = xScale(c + 0.5);
    const y0 = yScale(altTop - r * 0.25), y1 = yScale(altTop - (r + 1) * 0.25);
    const cell = add('rect', {x: x0.toFixed(2), y: y0.toFixed(2), width: (x1 - x0 + 0.3).toFixed(2), height: (y1 - y0 + 0.3).toFixed(2), fill: colorFn(v)}, g);
    
    
  }));
  frame(left, top, w, h);
  altitudeTicks.forEach(a => {
    const y = yScale(a);
    const tick = add('line', {x1: left - 5, x2: left, y1: y, y2: y, stroke: '#222', 'stroke-width': 1.2});
    
    
    const t = label(String(a), left - 10, y + 1, 'end', 24);
    
    
  });
  for (let i = 0; i < 6; i++) {
    const x = left + i / 5 * w;
    const tick = add('line', {x1: x, x2: x, y1: top + h, y2: top + h + 5, stroke: '#222', 'stroke-width': 1.2});
    
    
    if (xLabels) {
      const t = label(xLabels[i] + '° N', x, labelY, 'middle', 24, root, {'word-spacing': '-7px'});
      
      
    }
  }
}

function drawMap(values, left, top, colorFn, name, opts) {
  const g = add('g', {'clip-path': 'url(#' + makeClip(left, top, panelW, panelH) + ')'});
  
  
  const gx = (lon, lat) => left + projX(lon, lat);
  const gy = (lon, lat) => top + projY(lon, lat);
  values.forEach((row, r) => row.forEach((v, c) => {
    const lon0 = -15 + (c - mapCenterCol - 0.5) * mapLonStep, lon1 = lon0 + mapLonStep;
    const lat0 = mapLatTop - r * mapLatStep, lat1 = lat0 - mapLatStep;
    const pts = [[lon0,lat0],[lon1,lat0],[lon1,lat1],[lon0,lat1]].map(p => gx(p[0],p[1]).toFixed(1) + ',' + gy(p[0],p[1]).toFixed(1)).join(' ');
    const col = colorFn(v);
    const cell = add('polygon', {points: pts, fill: col, stroke: col, 'stroke-width': 0.5}, g);
    
    
  }));
  latTicks.forEach(lat => {
    const pts = [];
    for (let lon = -22; lon <= -8; lon += 0.5) pts.push(gx(lon, lat).toFixed(1) + ',' + gy(lon, lat).toFixed(1));
    const l = add('polyline', {points: pts.join(' '), fill: 'none', stroke: '#000', 'stroke-width': 1.3, 'stroke-dasharray': '1.4 2'}, g);
    
    
  });
  lonTicks.forEach(lon => {
    const pts = [];
    for (let lat = 63; lat <= 69; lat += 0.5) pts.push(gx(lon, lat).toFixed(1) + ',' + gy(lon, lat).toFixed(1));
    const l = add('polyline', {points: pts.join(' '), fill: 'none', stroke: '#000', 'stroke-width': 1.3, 'stroke-dasharray': '1.4 2'}, g);
    
    
  });
  const coast = add('polyline', {points: coastEast.map((e, i) => (left + coastX(e)).toFixed(1) + ',' + (top + coastY(coastSouth[i])).toFixed(1)).join(' '), fill: 'none', stroke: opts.coastColor, 'stroke-width': 1.3, 'stroke-linejoin': 'round'}, g);
  
  
  const region = add('polyline', {points: regionLons.map((lon, i) => gx(lon, regionLats[i]).toFixed(1) + ',' + gy(lon, regionLats[i]).toFixed(1)).join(' '), fill: 'none', stroke: '#000', 'stroke-width': 2.6, 'stroke-linejoin': 'round'}, g);
  
  
  if (opts.oblique) {
    const s = add('line', {x1: gx(sectionObliqueLons[0], sectionObliqueLats[0]), y1: gy(sectionObliqueLons[0], sectionObliqueLats[0]), x2: gx(sectionObliqueLons[1], sectionObliqueLats[1]), y2: gy(sectionObliqueLons[1], sectionObliqueLats[1]), stroke: '#a09a9c', 'stroke-width': 2.6}, g);
    
    
  } else {
    const s = add('line', {x1: gx(sectionMeridianLon, 60), y1: top, x2: gx(sectionMeridianLon, 60), y2: top + panelH, stroke: '#8c8c8c', 'stroke-width': 3}, g);
    
    
  }
  frame(left, top, panelW, panelH);
  latTicks.forEach(lat => {
    const rr = rho(lat);
    const yEdge = top + y68 - rho68 + Math.sqrt(rr * rr - cx * cx);
    const t = label(lat + '° N', left - 5.5, yEdge - 1.5, 'end', 24);
    
    
  });
  if (opts.lonLabels) {
    lonTicks.forEach(lon => {
      const t = label(Math.abs(lon) + '° W', left + projX(lon, 63.72), opts.labelY, 'middle', 24, root, {'word-spacing': '-7px'});
      
      
    });
  }
}

function drawColorbar(id, stops, left, right, top, bottom, ticks, maxV, digits, labelY, name) {
  const defs = add('defs', {});
  
  
  const grad = add('linearGradient', {id: id, x1: 0, x2: 1, y1: 0, y2: 0}, defs);
  stops.slice().reverse().forEach((c, i) => {
    add('stop', {offset: i / (stops.length - 1), 'stop-color': c}, grad);
  });
  const bar = add('rect', {x: left, y: top, width: right - left, height: bottom - top, fill: 'url(#' + id + ')', stroke: '#3a3a3a', 'stroke-width': 1.4});
  
  
  ticks.forEach(v => {
    const x = left + v / maxV * (right - left);
    const tick = add('line', {x1: x, x2: x, y1: bottom, y2: bottom + 5, stroke: '#222', 'stroke-width': 1.2});
    
    
    const t = label(v.toFixed(digits), x, labelY, 'middle', 24);
    
    
  });
}

drawVertical(verticalB, 166.5, 50.7, plasmaR, 'vertical-cut-b', null, 0);
drawVertical(verticalD, 166.5, 510.8, plasmaR, 'vertical-cut-d', vertTickLabelsD, 970);
drawVertical(verticalDs, 162, 1050, viridisR, 'vertical-cut-ds', vertTickLabelsDs, 1508);

drawMap(mapB105, 761.4, 50.7, plasmaR, 'map-b-10-5km', {coastColor: '#b4b4b4', oblique: false, lonLabels: false});
drawMap(mapB13, 1336.5, 50.7, plasmaR, 'map-b-13km', {coastColor: '#b4b4b4', oblique: false, lonLabels: false});
drawMap(mapD105, 761.4, 510.8, plasmaR, 'map-d-10-5km', {coastColor: '#b4b4b4', oblique: false, lonLabels: true, labelY: 964});
drawMap(mapD13, 1336.5, 510.8, plasmaR, 'map-d-13km', {coastColor: '#b4b4b4', oblique: false, lonLabels: true, labelY: 964});
drawMap(mapDs105, 757.5, 1050, viridisR, 'map-ds-10-5km', {coastColor: '#c8c8c8', oblique: true, lonLabels: true, labelY: 1503});
drawMap(mapDs13, 1332.7, 1050, viridisR, 'map-ds-13km', {coastColor: '#c8c8c8', oblique: true, lonLabels: true, labelY: 1503});

drawColorbar('plasmaGrad', plasmaStops, 506.7, 1465, 992.4, 1011.4, plasmaTicks, 3.5, 1, 1031, 'colorbar-plasma');
drawColorbar('viridisGrad', viridisStops, 502.2, 1461.2, 1532, 1551, viridisTicks, 0.2, 3, 1571, 'colorbar-viridis');
</script>
</body>
</html>
